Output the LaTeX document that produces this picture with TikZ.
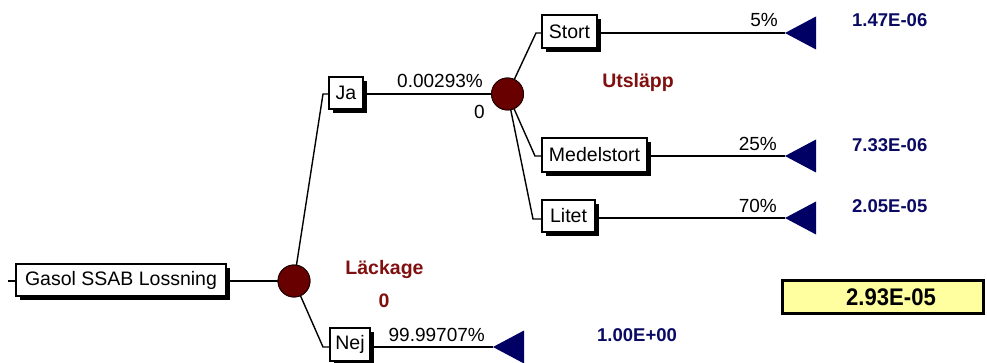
\documentclass[tikz,border=0pt]{standalone}
\usepackage{fontspec}
\setmainfont{Liberation Sans}
\definecolor{chancered}{RGB}{104,0,0}
\definecolor{namered}{RGB}{128,16,16}
\definecolor{endnavy}{RGB}{0,0,100}
\definecolor{valnavy}{RGB}{10,10,100}
\definecolor{resyellow}{RGB}{255,255,160}
% event box with a drop shadow: name, x1, y1, x2, y2, text
\newcommand\evbox[6]{%
  \fill (#2+4,#3+4) rectangle (#4+4,#5+4);
  \node[evbox, minimum width={#4-#2}, minimum height={#5-#3}] (#1) at ({(#2+#4)/2},{(#3+#5)/2}) {#6};
}
% leaf node: filled triangle pointing left, tip at the named coordinate
\newcommand\leafnode[1]{%
  \fill[endnavy] (#1) -- ++(31,-16.5) -- ++(0,33) -- cycle;
}
\begin{document}
\begin{tikzpicture}[x=1pt,y=-1pt,
  wire/.style={line width=1.4pt},
  evbox/.style={draw=black, line width=1.4pt, fill=white, inner sep=0pt,
    font=\fontsize{19.5}{22}\selectfont},
  chance/.style={circle, draw=black!70!chancered, line width=0.9pt, fill=chancered,
    minimum size=32pt, inner sep=0pt},
  prob/.style={inner sep=0pt, font=\fontsize{19}{22}\selectfont},
  nodename/.style={inner sep=0pt, text=namered, font=\fontsize{19.5}{22}\selectfont\bfseries},
  endval/.style={inner sep=0pt, text=valnavy, font=\fontsize{18.5}{22}\selectfont\bfseries},
  result/.style={draw=black, line width=3pt, fill=resyellow, inner sep=0pt,
    font=\fontsize{24}{28}\selectfont\bfseries}
]
\useasboundingbox (0,0) rectangle (987,363);
\clip (0,0) rectangle (987,363);
\fill[white] (0,0) rectangle (987,363);

% chance nodes (placed first so the wires can refer to them)
\path (294,281) node[chance] (c1) {};
\path (507.5,94) node[chance] (c2) {};

% branch elbows and leaf tips
\coordinate (eja) at (323,94);
\coordinate (enej) at (323,347);
\coordinate (estort) at (536,33);
\coordinate (emedel) at (535,156);
\coordinate (elitet) at (533,219);
\coordinate (tstort) at (785,33);
\coordinate (tmedel) at (785,156);
\coordinate (tlitet) at (785,218);
\coordinate (tnej) at (493,347);
\coordinate (stub) at (8,281);

% event boxes
\evbox{root}{16}{264}{226}{296}{Gasol SSAB Lossning}
\evbox{ja}{329}{77}{363}{109}{Ja}
\evbox{nej}{330}{328}{370}{361}{Nej}
\evbox{stort}{542}{15}{597}{48}{Stort}
\evbox{medel}{542}{138}{647}{172}{Medelstort}
\evbox{litet}{542}{200}{595}{232}{Litet}

% wires
\draw[wire] (stub) -- (root.west |- stub);
\draw[wire] (root.east |- stub) -- (c1.center);
\draw[wire] (c1.center) -- (eja) -- (ja.west |- eja);
\draw[wire] (c1.center) -- (enej) -- (nej.west |- enej);
\draw[wire] (ja.east |- eja) -- (c2.center);
\draw[wire] (c2.center) -- (estort) -- (stort.west |- estort);
\draw[wire] (c2.center) -- (emedel) -- (medel.west |- emedel);
\draw[wire] (c2.center) -- (elitet) -- (litet.west |- elitet);
\draw[wire] (stort.east |- tstort) -- (tstort);
\draw[wire] (medel.east |- tmedel) -- (tmedel);
\draw[wire] (litet.east |- tlitet) -- (tlitet);
\draw[wire] (nej.east |- tnej) -- (tnej);

% redraw chance nodes over the wires
\node[chance] at (c1.center) {};
\node[chance] at (c2.center) {};

% leaf nodes
\leafnode{tstort}
\leafnode{tmedel}
\leafnode{tlitet}
\leafnode{tnej}

% probabilities
\node[prob, anchor=base east] (pja) at (483,88) {0.00293\%};
\node[prob, anchor=base east] (vja) at (485,119) {0};
\node[prob, anchor=base east] (pnej) at (485,341) {99.99707\%};
\node[prob, anchor=base east] (pstort) at (778,27) {5\%};
\node[prob, anchor=base east] (pmedel) at (777,151) {25\%};
\node[prob, anchor=base east] (plitet) at (777,213) {70\%};

% chance node names and values
\node[nodename, anchor=base] (nutslapp) at (638,88) {Utsläpp};
\node[nodename, anchor=base] (nlackage) at (384.5,274) {Läckage};
\node[nodename, anchor=base] (vlackage) at (384,307) {0};

% leaf values
\node[endval, anchor=base west] (vstort) at (852,27) {1.47E-06};
\node[endval, anchor=base west] (vmedel) at (852,152) {7.33E-06};
\node[endval, anchor=base west] (vlitet) at (852,213) {2.05E-05};
\node[endval, anchor=base west] (vnej) at (597,341) {1.00E+00};

% expected value of the whole tree
\node[result, minimum width=201pt, minimum height=33pt] (total) at (883,297)
  {\hspace*{16pt}\scalebox{0.92}[1]{2.93E-05}};
\end{tikzpicture}
\end{document}
